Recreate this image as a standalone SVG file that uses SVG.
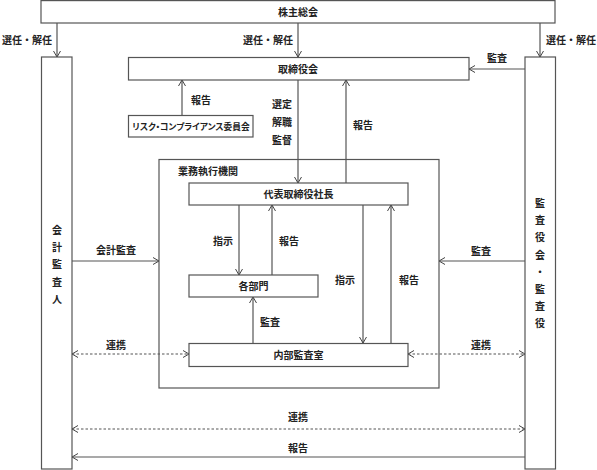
<svg xmlns="http://www.w3.org/2000/svg" width="597" height="470" viewBox="0 0 597 470">
<style>
.box{fill:#fff;stroke:#555;stroke-width:1.2}
.ln{fill:none;stroke:#555;stroke-width:1.2}
.dash{fill:none;stroke:#555;stroke-width:1.2;stroke-dasharray:2.5,2}
text{font-family:"Noto Sans CJK JP","Noto Sans CJK SC",sans-serif;font-size:10px;font-weight:bold;fill:#222}
.c{text-anchor:middle}
.p{font-feature-settings:"palt";font-size:8.7px}
</style>
<defs>
<marker id="ah" markerWidth="8" markerHeight="8" refX="7" refY="4" orient="auto-start-reverse" markerUnits="userSpaceOnUse">
<path d="M1,0.5 L7,4 L1,7.5" fill="none" stroke="#444" stroke-width="1"/>
</marker>
</defs>
<g id="connectors">
<line class="ln" x1="57" y1="23" x2="57" y2="57" marker-end="url(#ah)"/>
<line class="ln" x1="298" y1="23" x2="298" y2="57" marker-end="url(#ah)"/>
<line class="ln" x1="540" y1="23" x2="540" y2="57" marker-end="url(#ah)"/>
<line class="ln" x1="525" y1="69" x2="469" y2="69" marker-end="url(#ah)"/>
<line class="ln" x1="182" y1="115" x2="182" y2="80" marker-end="url(#ah)"/>
<line class="ln" x1="298" y1="80" x2="298" y2="183" marker-end="url(#ah)"/>
<line class="ln" x1="346" y1="183" x2="346" y2="80" marker-end="url(#ah)"/>
<line class="ln" x1="239" y1="205" x2="239" y2="275" marker-end="url(#ah)"/>
<line class="ln" x1="272" y1="275" x2="272" y2="205" marker-end="url(#ah)"/>
<line class="ln" x1="253" y1="343" x2="253" y2="297" marker-end="url(#ah)"/>
<line class="ln" x1="363" y1="205" x2="363" y2="343" marker-end="url(#ah)"/>
<line class="ln" x1="391" y1="343" x2="391" y2="205" marker-end="url(#ah)"/>
<line class="ln" x1="72" y1="261" x2="159" y2="261" marker-end="url(#ah)"/>
<line class="ln" x1="525" y1="261" x2="439" y2="261" marker-end="url(#ah)"/>
<line class="dash" x1="72" y1="354" x2="189" y2="354" marker-start="url(#ah)" marker-end="url(#ah)"/>
<line class="dash" x1="408" y1="354" x2="525" y2="354" marker-start="url(#ah)" marker-end="url(#ah)"/>
<line class="dash" x1="72" y1="429" x2="525" y2="429" marker-start="url(#ah)" marker-end="url(#ah)"/>
<line class="ln" x1="525" y1="457" x2="72" y2="457" marker-end="url(#ah)"/>
</g>
<g id="labels">
<text x="27" y="44" class="c">選任・解任</text>
<text x="268" y="44" class="c">選任・解任</text>
<text x="571" y="44" class="c">選任・解任</text>
<text x="497" y="62" class="c">監査</text>
<text x="201" y="104" class="c">報告</text>
<text class="c"><tspan x="282" y="108">選定</tspan><tspan x="282" y="126">解職</tspan><tspan x="282" y="144">監督</tspan></text>
<text x="363" y="129" class="c">報告</text>
<text x="223" y="245" class="c">指示</text>
<text x="289" y="245" class="c">報告</text>
<text x="345" y="284" class="c">指示</text>
<text x="409" y="284" class="c">報告</text>
<text x="270" y="326" class="c">監査</text>
<text x="116" y="254" class="c">会計監査</text>
<text x="481" y="255" class="c">監査</text>
<text x="116" y="349" class="c">連携</text>
<text x="481" y="349" class="c">連携</text>
<text x="298" y="421" class="c">連携</text>
<text x="298" y="452" class="c">報告</text>
</g>
<g id="node-shareholders">
<rect class="box" x="41" y="0.6" width="514" height="22.4"/>
<text x="298" y="15.5" class="c">株主総会</text>
</g>
<g id="node-auditor">
<rect class="box" x="41.5" y="57" width="30.5" height="412"/>
<text x="57" y="234" class="c">会</text>
<text x="57" y="251" class="c">計</text>
<text x="57" y="268" class="c">監</text>
<text x="57" y="286" class="c">査</text>
<text x="57" y="303" class="c">人</text>
</g>
<g id="node-kansayaku">
<rect class="box" x="525" y="57" width="30.5" height="412"/>
<text x="540" y="207" class="c">監</text>
<text x="540" y="224" class="c">査</text>
<text x="540" y="241" class="c">役</text>
<text x="540" y="259" class="c">会</text>
<text x="540" y="276" class="c">・</text>
<text x="540" y="293" class="c">監</text>
<text x="540" y="310" class="c">査</text>
<text x="540" y="327" class="c">役</text>
</g>
<g id="node-board">
<rect class="box" x="128.5" y="57.5" width="340.5" height="22.5"/>
<text x="298" y="73" class="c">取締役会</text>
</g>
<g id="node-risk">
<rect class="box" x="128.5" y="115.5" width="124.5" height="21.5"/>
<text x="191" y="129.5" class="c p">リスク・コンプライアンス委員会</text>
</g>
<g id="node-exec">
<rect class="ln" x="159" y="159.5" width="280" height="228.5"/>
<text x="178" y="175">業務執行機関</text>
</g>
<g id="node-ceo">
<rect class="box" x="189" y="183" width="219" height="22"/>
<text x="298.5" y="198" class="c">代表取締役社長</text>
</g>
<g id="node-depts">
<rect class="box" x="189" y="275" width="129" height="22"/>
<text x="253.5" y="290" class="c">各部門</text>
</g>
<g id="node-internal">
<rect class="box" x="189" y="343.5" width="219" height="23"/>
<text x="298.5" y="359" class="c">内部監査室</text>
</g>
</svg>
